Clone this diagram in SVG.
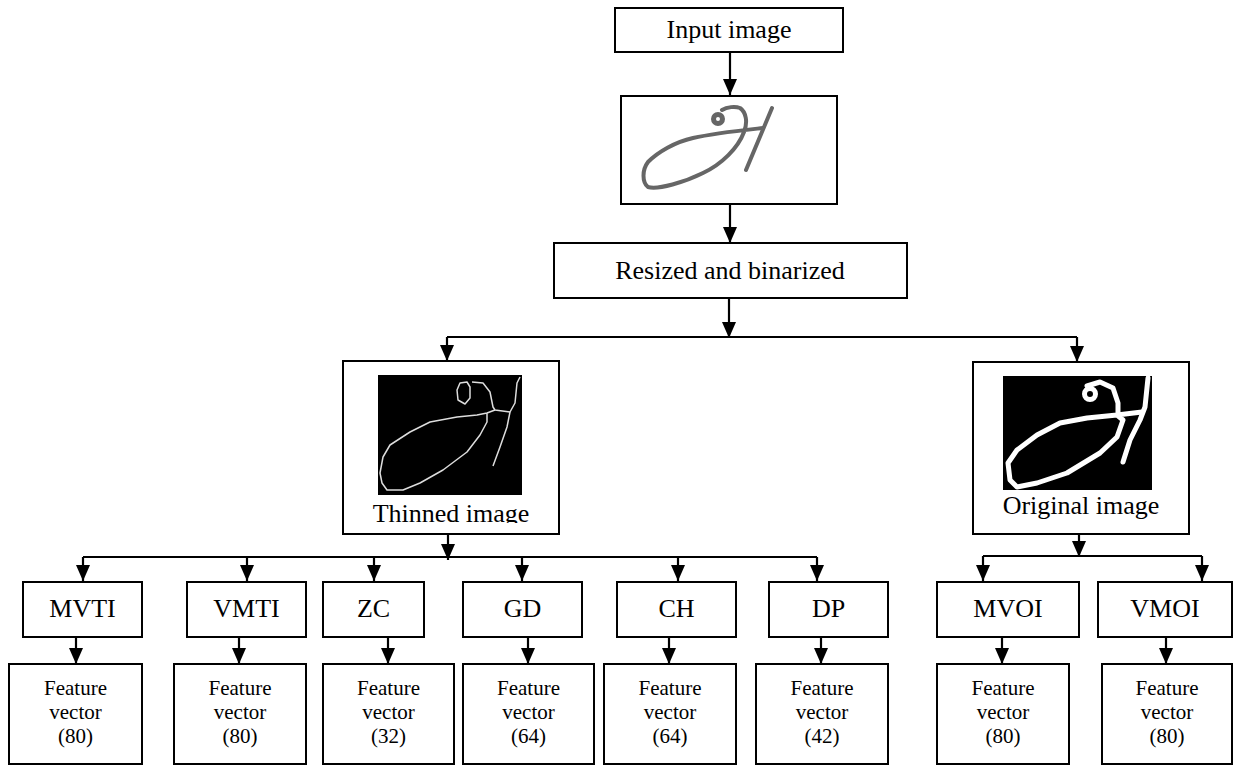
<svg xmlns="http://www.w3.org/2000/svg" width="1233" height="765" viewBox="0 0 1233 765">
<style>
.box{fill:#fff;stroke:#000;stroke-width:2}
.lbl{font-family:"Liberation Serif","Times New Roman",serif;font-size:26px;fill:#000;text-anchor:middle}
.fv{font-family:"Liberation Serif","Times New Roman",serif;font-size:21px;fill:#000;text-anchor:middle}
.con{fill:none;stroke:#000;stroke-width:2.2}
.arr{marker-end:url(#ah)}
</style>
<defs>
<marker id="ah" viewBox="0 0 16 14" refX="16" refY="7" markerWidth="16" markerHeight="14" markerUnits="userSpaceOnUse" orient="auto">
<path d="M0,0 L16,7 L0,14 z" fill="#000"/>
</marker>
<clipPath id="thinClip"><rect x="343" y="361" width="216" height="162"/></clipPath>
</defs>
<rect width="1233" height="765" fill="#fff"/>

<g id="connectors">
<path class="con arr" d="M730,52 V95"/>
<path class="con arr" d="M730,204 V243"/>
<path class="con arr" d="M729,298 V338"/>
<path class="con" d="M447,337 H1077"/>
<path class="con arr" d="M447,337 V361"/>
<path class="con arr" d="M1077,337 V362"/>
<path class="con arr" d="M448,534 V560"/>
<path class="con" d="M83,557 H817"/>
<path class="con arr" d="M83,557 V581"/>
<path class="con arr" d="M247,557 V581"/>
<path class="con arr" d="M374,557 V581"/>
<path class="con arr" d="M522,557 V581"/>
<path class="con arr" d="M678,557 V581"/>
<path class="con arr" d="M817,557 V581"/>
<path class="con arr" d="M1079,534 V557"/>
<path class="con" d="M983,556 H1202"/>
<path class="con arr" d="M983,556 V581"/>
<path class="con arr" d="M1202,556 V581"/>
<path class="con arr" d="M76,637 V664"/>
<path class="con arr" d="M239,637 V664"/>
<path class="con arr" d="M388,637 V664"/>
<path class="con arr" d="M528,637 V664"/>
<path class="con arr" d="M669,637 V664"/>
<path class="con arr" d="M821,637 V664"/>
<path class="con arr" d="M1002,637 V664"/>
<path class="con arr" d="M1166,637 V664"/>
</g>

<g id="input-image">
<rect class="box" x="615" y="8" width="228" height="44"/>
<text class="lbl" x="729" y="38">Input image</text>
</g>

<g id="signature">
<rect class="box" x="621" y="96" width="216" height="108"/>
<g fill="none" stroke="#666" stroke-width="4" stroke-linecap="round" stroke-linejoin="round">
<path d="M763,128 C745,130 715,133 693,138 C675,142 658,152 648,162 C642,170 642,182 648,187 C658,190 685,182 703,173 C722,164 738,148 744,132 C748,122 746,112 740,108 C735,106 727,107 722,110"/>
<circle cx="718" cy="119" r="4.5" stroke-width="5"/>
<path d="M772,108 L746,170"/>
</g>
</g>

<g id="resized">
<rect class="box" x="554" y="243" width="353" height="55"/>
<text class="lbl" x="730" y="279">Resized and binarized</text>
</g>

<g id="thinned">
<rect class="box" x="343" y="361" width="216" height="173"/>
<rect x="378" y="375" width="144" height="120" fill="#000"/>
<g fill="none" stroke="#ddd" stroke-width="1.5" stroke-linejoin="round">
<path d="M460,383 L467,382 L470,387 L470,398 L465,404 L458,400 L457,390 Z"/>
<path d="M472,382 L483,383 L490,392 L493,407 L495,410 L510,412 L515,403 L517,383 L520,377"/>
<path d="M510,412 L507,427 L500,447 L493,466"/>
<path d="M495,410 L487,413 L477,415 L457,417 L430,422 L410,432 L390,445 L383,457 L380,473 L382,483 L387,490 L403,490 L420,483 L443,470 L467,452 L480,435 L487,422 L487,413"/>
</g>
<text class="lbl" x="451" y="522" clip-path="url(#thinClip)">Thinned image</text>
</g>

<g id="original">
<rect class="box" x="973" y="362" width="216" height="172"/>
<rect x="1003" y="376" width="149" height="114" fill="#000"/>
<g fill="none" stroke="#fff" stroke-width="5" stroke-linejoin="round" stroke-linecap="round">
<circle cx="1090" cy="394" r="5.5"/>
<path d="M1087,386 L1100,382 L1113,388 L1118,403 L1118,413"/>
<path d="M1148,378 L1145,407 L1140,420 L1130,440 L1123,462"/>
<path d="M1142,412 L1117,415 L1087,418 L1060,423 L1037,435 L1017,450 L1008,463 L1010,480 L1017,487 L1037,483 L1067,473 L1100,453 L1117,437 L1123,420 L1117,415"/>
</g>
<text class="lbl" x="1081" y="514">Original image</text>
</g>

<g id="mvti"><rect class="box" x="23" y="582" width="119" height="55"/><text class="lbl" x="82.5" y="617">MVTI</text></g>
<g id="vmti"><rect class="box" x="187" y="582" width="119" height="55"/><text class="lbl" x="246.5" y="617">VMTI</text></g>
<g id="zc"><rect class="box" x="323" y="582" width="101" height="55"/><text class="lbl" x="373.5" y="617">ZC</text></g>
<g id="gd"><rect class="box" x="463" y="582" width="119" height="55"/><text class="lbl" x="522.5" y="617">GD</text></g>
<g id="ch"><rect class="box" x="617" y="582" width="119" height="55"/><text class="lbl" x="676.5" y="617">CH</text></g>
<g id="dp"><rect class="box" x="769" y="582" width="119" height="55"/><text class="lbl" x="828.5" y="617">DP</text></g>
<g id="mvoi"><rect class="box" x="937" y="582" width="142" height="55"/><text class="lbl" x="1008" y="617">MVOI</text></g>
<g id="vmoi"><rect class="box" x="1098" y="582" width="134" height="55"/><text class="lbl" x="1165" y="617">VMOI</text></g>

<g id="fv-mvti"><rect class="box" x="9" y="664" width="133" height="100"/><text class="fv" x="75.5" y="695">Feature</text><text class="fv" x="75.5" y="719">vector</text><text class="fv" x="75.5" y="743">(80)</text></g>
<g id="fv-vmti"><rect class="box" x="174" y="664" width="132" height="100"/><text class="fv" x="240" y="695">Feature</text><text class="fv" x="240" y="719">vector</text><text class="fv" x="240" y="743">(80)</text></g>
<g id="fv-zc"><rect class="box" x="323" y="664" width="131" height="100"/><text class="fv" x="388.5" y="695">Feature</text><text class="fv" x="388.5" y="719">vector</text><text class="fv" x="388.5" y="743">(32)</text></g>
<g id="fv-gd"><rect class="box" x="463" y="664" width="131" height="100"/><text class="fv" x="528.5" y="695">Feature</text><text class="fv" x="528.5" y="719">vector</text><text class="fv" x="528.5" y="743">(64)</text></g>
<g id="fv-ch"><rect class="box" x="604" y="664" width="132" height="100"/><text class="fv" x="670" y="695">Feature</text><text class="fv" x="670" y="719">vector</text><text class="fv" x="670" y="743">(64)</text></g>
<g id="fv-dp"><rect class="box" x="756" y="664" width="132" height="100"/><text class="fv" x="822" y="695">Feature</text><text class="fv" x="822" y="719">vector</text><text class="fv" x="822" y="743">(42)</text></g>
<g id="fv-mvoi"><rect class="box" x="937" y="664" width="132" height="100"/><text class="fv" x="1003" y="695">Feature</text><text class="fv" x="1003" y="719">vector</text><text class="fv" x="1003" y="743">(80)</text></g>
<g id="fv-vmoi"><rect class="box" x="1102" y="664" width="130" height="100"/><text class="fv" x="1167" y="695">Feature</text><text class="fv" x="1167" y="719">vector</text><text class="fv" x="1167" y="743">(80)</text></g>
</svg>
